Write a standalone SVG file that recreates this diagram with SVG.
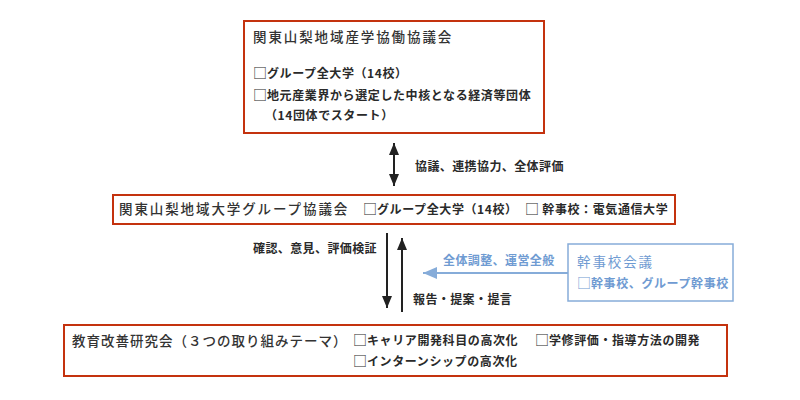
<svg xmlns="http://www.w3.org/2000/svg" width="800" height="400" viewBox="0 0 800 400">
<defs>
<style>
text{font-family:"Noto Sans CJK JP","Noto Sans CJK SC",sans-serif;fill:#2a2a2a}
.box{fill:#fff;stroke:#c4320e;stroke-width:2}
.bbox{fill:#fff;stroke:#86acd9;stroke-width:1.5}
.t{font-size:13.5px;letter-spacing:1.9px;font-weight:500;fill:#333}
.s{font-size:12px;letter-spacing:0.6px;font-weight:bold}
.lbl{font-size:12px;letter-spacing:0.4px;font-weight:bold}
.sq{font-size:14px;font-weight:normal;letter-spacing:0}
.blue{fill:#6f9bd2}
.k{stroke:#222;stroke-width:2;fill:none}
.bl{stroke:#86acd9;stroke-width:2;fill:none}
</style>
<marker id="ah" viewBox="0 0 12 10" refX="12" refY="5" markerWidth="12" markerHeight="10" markerUnits="userSpaceOnUse" orient="auto-start-reverse"><path d="M0,0 L12,5 L0,10 Z" fill="#222"/></marker>
<marker id="ahb" viewBox="0 0 14 12" refX="14" refY="6" markerWidth="14" markerHeight="12" markerUnits="userSpaceOnUse" orient="auto"><path d="M0,0 L14,6 L0,12 Z" fill="#86acd9"/></marker>
</defs>
<rect width="800" height="400" fill="#fff"/>

<g id="connectors">
<line class="k" x1="394" y1="143" x2="394" y2="186" marker-start="url(#ah)" marker-end="url(#ah)"/>
<text class="lbl" x="415" y="171">協議、連携協力、全体評価</text>
<line class="k" x1="387" y1="233" x2="387" y2="308" stroke-width="1.6" marker-end="url(#ah)"/>
<line class="k" x1="402" y1="312" x2="402" y2="238" stroke-width="1.6" marker-end="url(#ah)"/>
<text class="lbl" x="253" y="253">確認、意見、評価検証</text>
<text class="lbl" x="413" y="304">報告・提案・提言</text>
<line class="bl" x1="568" y1="273" x2="423" y2="273" marker-end="url(#ahb)"/>
<text class="lbl blue" x="443" y="265">全体調整、運営全般</text>
</g>

<g id="node-kyogikai">
<rect class="box" x="244" y="21" width="300" height="112"/>
<text class="t" x="253" y="42">関東山梨地域産学協働協議会</text>
<text class="s" x="253" y="78"><tspan class="sq">□</tspan>グループ全大学（14校）</text>
<text class="s" x="253" y="100"><tspan class="sq">□</tspan>地元産業界から選定した中核となる経済等団体</text>
<text class="s" x="265" y="120">（14団体でスタート）</text>
</g>

<g id="node-group">
<rect class="box" x="113" y="195" width="562" height="29"/>
<text class="t" x="119" y="214">関東山梨地域大学グループ協議会</text>
<text class="s" x="363" y="214"><tspan class="sq">□</tspan>グループ全大学（14校）</text>
<text class="s" x="525" y="214"><tspan class="sq">□</tspan> 幹事校：電気通信大学</text>
</g>

<g id="node-kanjikou">
<rect class="bbox" x="568" y="244" width="165" height="57"/>
<text class="t blue" x="577" y="267" style="font-weight:normal;fill:#6f9bd2">幹事校会議</text>
<text class="s blue" x="577" y="288"><tspan class="sq">□</tspan>幹事校、グループ幹事校</text>
</g>

<g id="node-kenkyukai">
<rect class="box" x="64" y="325" width="663" height="51"/>
<text class="t" x="72" y="346" style="letter-spacing:1px">教育改善研究会（３つの取り組みテーマ）</text>
<text class="s" x="353" y="345"><tspan class="sq">□</tspan>キャリア開発科目の高次化</text>
<text class="s" x="535" y="345"><tspan class="sq">□</tspan>学修評価・指導方法の開発</text>
<text class="s" x="353" y="366"><tspan class="sq">□</tspan>インターンシップの高次化</text>
</g>
</svg>
